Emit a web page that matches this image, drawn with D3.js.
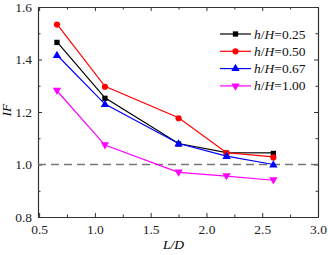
<!DOCTYPE html>
<html>
<head>
<meta charset="utf-8">
<script src="https://cdn.jsdelivr.net/npm/d3@7"></script>
<style>
  body { margin: 0; background: #fff; }
  text { font-family: "Liberation Serif", "DejaVu Serif", serif; }
</style>
</head>
<body>
<div id="chart"></div>
<script>
// data
var ldValues = [0.66, 1.09, 1.75, 2.18, 2.6];
var series025 = [1.467, 1.254, 1.08, 1.045, 1.044];
var series050 = [1.535, 1.298, 1.178, 1.045, 1.029];
var series067 = [1.417, 1.23, 1.08, 1.032, 1.0];
var series100 = [1.281, 1.074, 0.97, 0.956, 0.94];
var seriesNames = ["0.25", "0.50", "0.67", "1.00"];
var xTicks = [0.5, 1.0, 1.5, 2.0, 2.5, 3.0];
var yTicks = [0.8, 1.0, 1.2, 1.4, 1.6];

var margin = {top: 7, right: 10, bottom: 38, left: 38},
    width = 328 - margin.left - margin.right,
    height = 255 - margin.top - margin.bottom;

const svg = d3.select("#chart")
  .append("svg")
  .attr("width", 328)
  .attr("height", 255)
  .append("g")
  .attr("transform", `translate(${margin.left},${margin.top})`);

var x = d3.scaleLinear().domain([0.49, 3.0]).range([0, width]);
var y = d3.scaleLinear().domain([0.8, 1.6]).range([height, 0]);

var minorX = d3.range(0.75, 3.0, 0.5);
var minorY = d3.range(0.9, 1.6, 0.2);

// axes with inward ticks
function styleAxis(g) {
  g.select(".domain").attr("stroke", "#333").attr("stroke-width", 1.1);
  g.selectAll(".tick line").attr("stroke", "#333").attr("stroke-width", 1);
  g.selectAll("text").attr("font-size", "13.5px").attr("fill", "#222");
}

svg.append("g").attr("transform", `translate(0,${height})`)
  .call(d3.axisBottom(x).tickValues(xTicks).tickFormat(d3.format(".1f")).tickSizeInner(-4).tickSizeOuter(0).tickPadding(7))
  .call(styleAxis);
svg.append("g").attr("transform", `translate(0,${height})`)
  .call(d3.axisBottom(x).tickValues(minorX).tickFormat("").tickSizeInner(-2.5).tickSizeOuter(0))
  .call(styleAxis);
svg.append("g")
  .call(d3.axisTop(x).tickValues(xTicks).tickFormat("").tickSizeInner(-4).tickSizeOuter(0))
  .call(styleAxis);
svg.append("g")
  .call(d3.axisTop(x).tickValues(minorX).tickFormat("").tickSizeInner(-2.5).tickSizeOuter(0))
  .call(styleAxis);

svg.append("g")
  .call(d3.axisLeft(y).tickValues(yTicks).tickFormat(d3.format(".1f")).tickSizeInner(-4).tickSizeOuter(0).tickPadding(6))
  .call(styleAxis);
svg.append("g")
  .call(d3.axisLeft(y).tickValues(minorY).tickFormat("").tickSizeInner(-2.5).tickSizeOuter(0))
  .call(styleAxis);
svg.append("g").attr("transform", `translate(${width},0)`)
  .call(d3.axisRight(y).tickValues(yTicks).tickFormat("").tickSizeInner(-4).tickSizeOuter(0))
  .call(styleAxis);
svg.append("g").attr("transform", `translate(${width},0)`)
  .call(d3.axisRight(y).tickValues(minorY).tickFormat("").tickSizeInner(-2.5).tickSizeOuter(0))
  .call(styleAxis);

// reference line at IF = 1
svg.append("line")
  .attr("x1", 0).attr("x2", width)
  .attr("y1", y(1.0)).attr("y2", y(1.0))
  .attr("stroke", "#777").attr("stroke-width", 1.3)
  .attr("stroke-dasharray", "8,5");

var colors = ["#000000", "#ff0000", "#0000ff", "#ff00ff"];
var symbols = [d3.symbolSquare, d3.symbolCircle, d3.symbolTriangle, d3.symbolTriangle];
var symSizes = [28, 30, 30, 30];
var rotations = [0, 0, 0, 180];
var allSeries = [series025, series050, series067, series100];

var line = d3.line().x(d => x(d[0])).y(d => y(d[1]));

allSeries.forEach(function(vals, i) {
  var pts = ldValues.map((v, j) => [v, vals[j]]);
  svg.append("path")
    .datum(pts)
    .attr("fill", "none")
    .attr("stroke", colors[i])
    .attr("stroke-width", 1.2)
    .attr("d", line);
  svg.selectAll(".m" + i)
    .data(pts)
    .join("path")
    .attr("class", "m" + i)
    .attr("d", d3.symbol().type(symbols[i]).size(symSizes[i]))
    .attr("fill", colors[i])
    .attr("transform", d => `translate(${x(d[0])},${y(d[1]) + (rotations[i] ? -1 : 1) * 0.5}) rotate(${rotations[i]})`);
});

// legend
var legend = svg.append("g").attr("transform", "translate(182,27)");
seriesNames.forEach(function(name, i) {
  var row = legend.append("g").attr("transform", `translate(0,${i * 17.3})`);
  row.append("line").attr("x1", 0).attr("x2", 31).attr("y1", 0).attr("y2", 0)
    .attr("stroke", colors[i]).attr("stroke-width", 1.2);
  row.append("path")
    .attr("d", d3.symbol().type(symbols[i]).size(symSizes[i]))
    .attr("fill", colors[i])
    .attr("transform", `translate(15.5,0) rotate(${rotations[i]})`);
  var t = row.append("text").attr("x", 34).attr("y", 4.5).attr("font-size", "13.5px").attr("fill", "#111");
  t.append("tspan").attr("font-style", "italic").text("h");
  t.append("tspan").text("/");
  t.append("tspan").attr("font-style", "italic").text("H");
  t.append("tspan").text("=" + name);
});

// axis titles
svg.append("text")
  .attr("text-anchor", "middle")
  .attr("x", x(1.75) - 5)
  .attr("y", height + 32)
  .attr("font-size", "13.5px")
  .attr("font-style", "italic")
  .text("L/D");

svg.append("text")
  .attr("text-anchor", "middle")
  .attr("transform", `translate(-27.5,${y(1.2) - 2}) rotate(-90)`)
  .attr("font-size", "13.5px")
  .attr("font-style", "italic")
  .text("IF");
</script>
</body>
</html>
